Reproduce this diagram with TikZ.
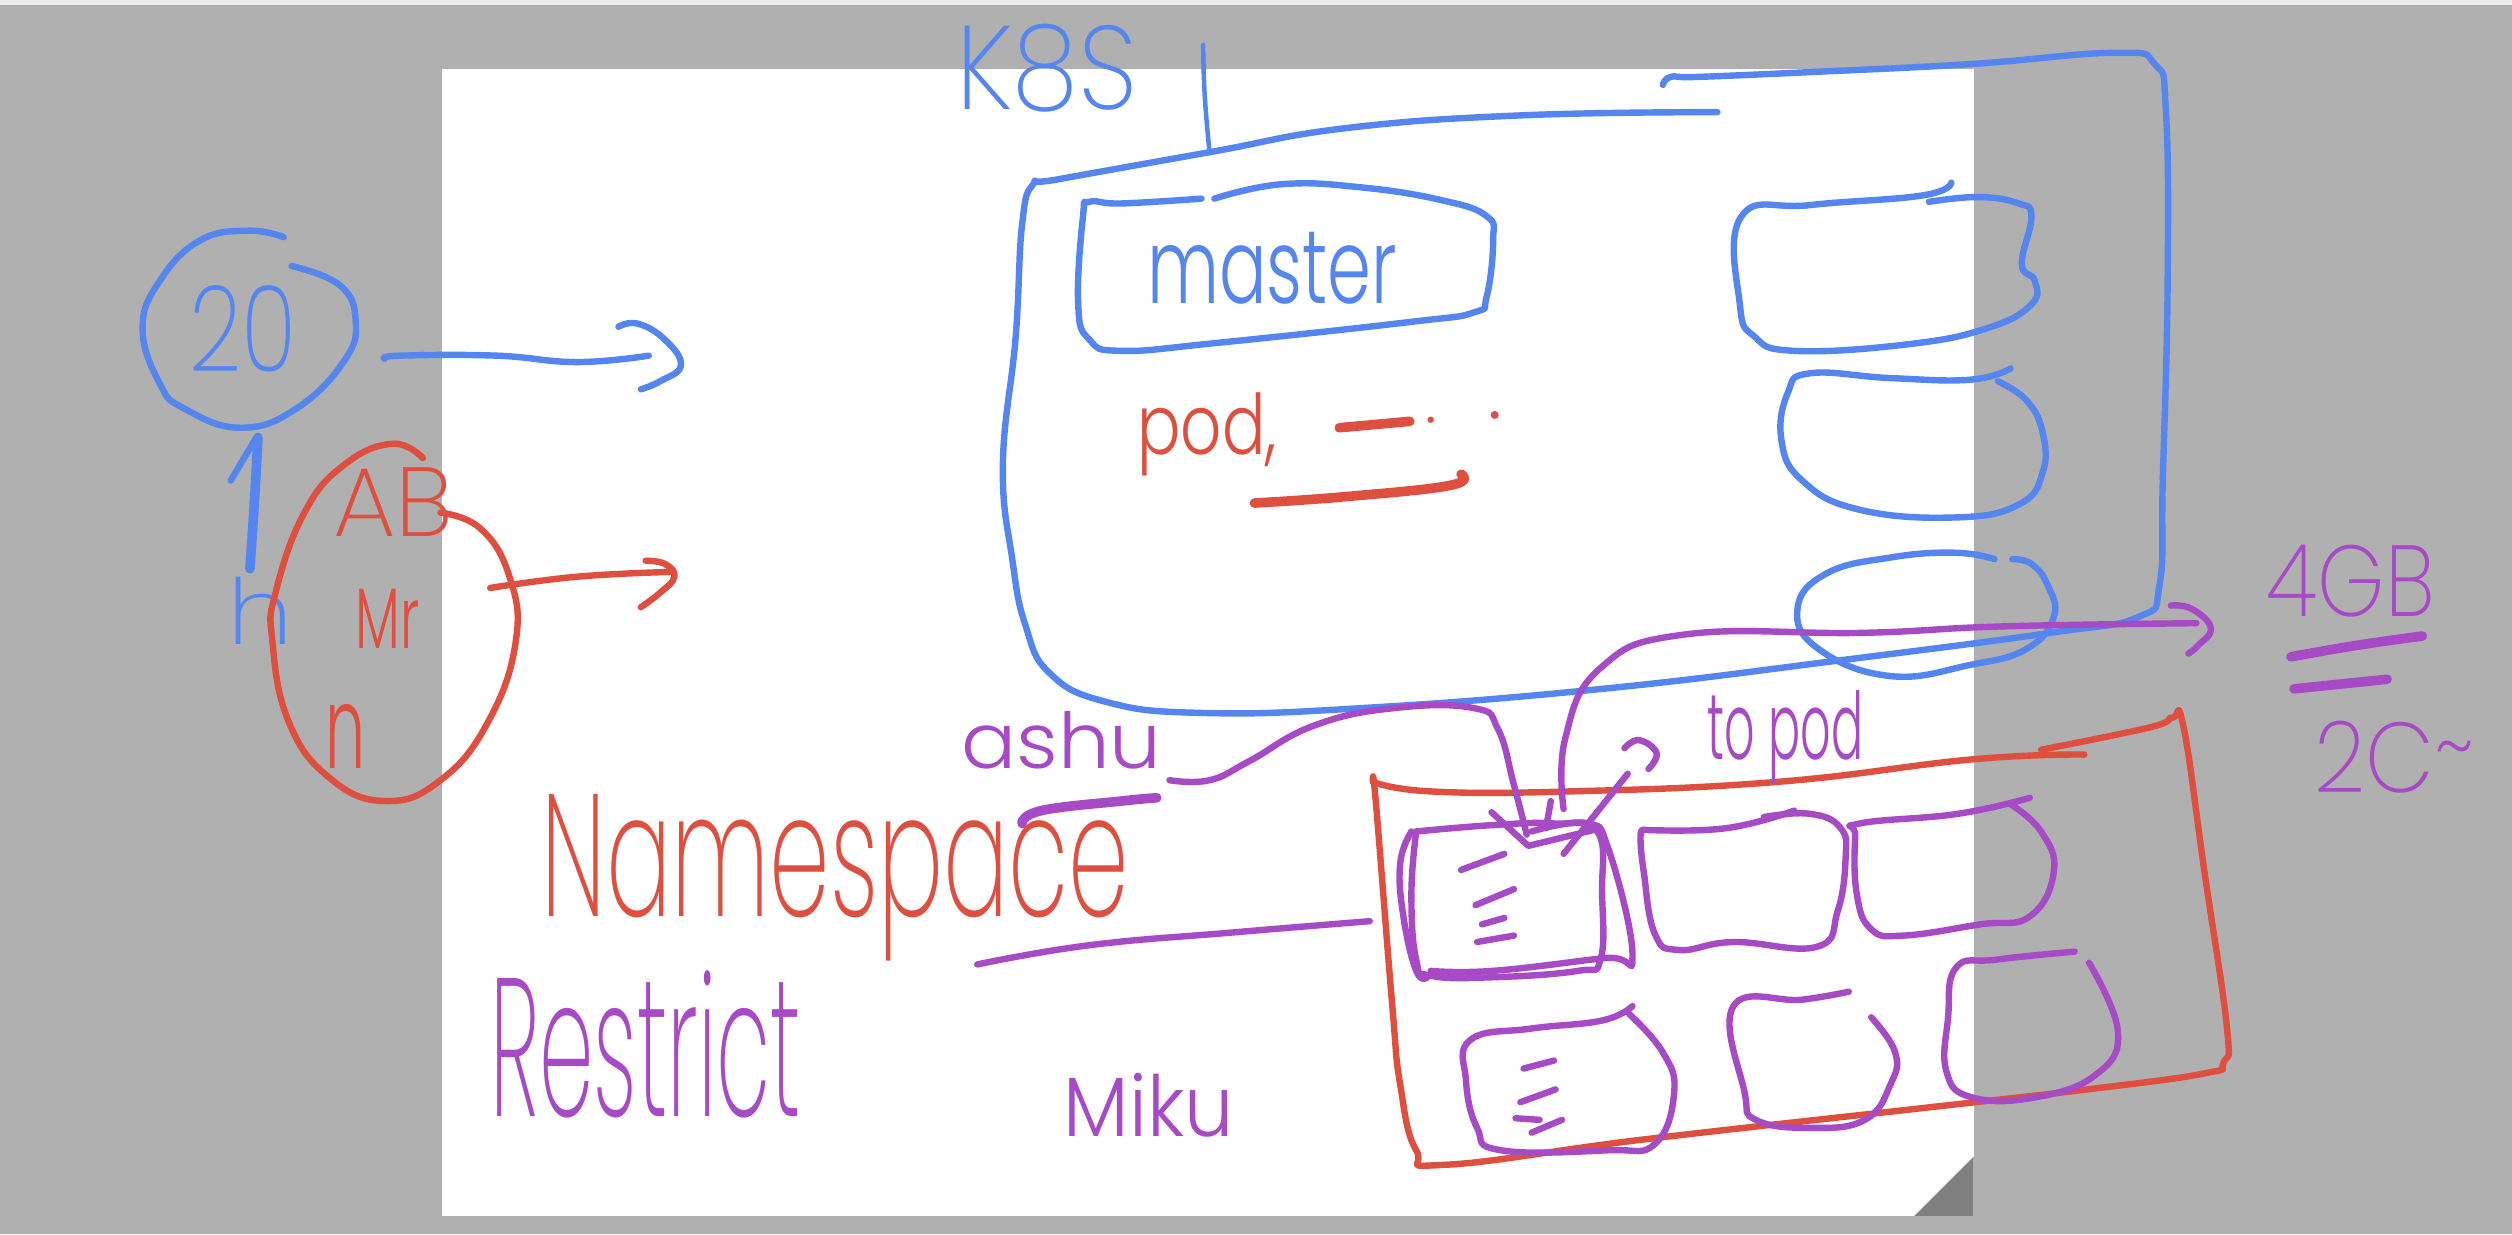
\documentclass[tikz,border=0pt]{standalone}
\usepackage{graphicx}
\usepackage{fontspec}
\setmainfont{Poppins Light}
\newfontfamily\lightink{Poppins ExtraLight}
\definecolor{inkblue}{HTML}{5585EE}
\definecolor{inkred}{HTML}{DE4F40}
\definecolor{inkpurple}{HTML}{A64AC6}
\definecolor{desk}{HTML}{B0B0B0}
\tikzset{
  ink/.style={line width=2pt,line cap=round,line join=round},
  fat/.style={line width=3pt,line cap=round,line join=round},
  hair/.style={line width=1.4pt,line cap=round,line join=round},
}
\newcommand{\hw}[7]{%
  \pgfmathsetlengthmacro{\hwW}{(#4-#2)*0.5pt}%
  \pgfmathsetlengthmacro{\hwH}{(#5-#3)*0.5pt}%
  \node[inner sep=0pt,text=#1] (#6) at ({(#2+#4)/2},{(#3+#5)/2}) {\resizebox*{\hwW}{\hwH}{#7}};}
\newcommand{\sm}[2]{\draw[#1] plot[smooth,tension=.75] coordinates {#2};}
\begin{document}
\begin{tikzpicture}[x=0.5pt,y=-0.5pt]
\useasboundingbox (0,0) rectangle (1568,770.3);
\fill[desk] (0,0) rectangle (1568,770.3);
\fill[black!7] (0,0) rectangle (1568,3);
\fill[white] (276,43) rectangle (1232,759);
\fill[black!50] (1195,759) -- (1232,722) -- (1232,759) -- cycle;
% left blue group
\sm{ink,inkblue}{(177,148)(155,144)(125,150)(100,175)(89,205)(100,240)(115,255)(150,267)(185,255)(215,225)(222,200)(212,178)(182,166)}
\hw{inkblue}{118}{178}{185}{232}{twenty}{\lightink 20}
\sm{ink,inkblue}{(240,224)(250,222)(310,222)(360,226)(405,222)}
\sm{ink,inkblue}{(386,204)(398,202)(415,212)(425,228)(412,238)(400,243)}
\sm{fat,inkblue}{(161,273)(159,310)(156,355)}
\draw[ink,inkblue] (144,300) -- (160,273);
\hw{inkblue}{142}{360}{183}{402}{bluen}{\lightink h}
% left red group
\sm{ink,inkred}{(264,286)(245,277)(215,290)(190,320)(172,370)(170,400)(180,450)(205,485)(240,500)(275,487)(305,450)(322,400)(318,360)(300,330)(275,320)}
\hw{inkred}{208}{292}{283}{335}{ab}{\lightink AB}
\hw{inkred}{222}{368}{262}{405}{mr}{Mr}
\hw{inkred}{203}{440}{228}{480}{redn}{n}
\sm{ink,inkred}{(306,367)(360,360)(418,357)}
\sm{ink,inkred}{(403,350)(415,352)(421,360)(412,370)(400,379)}
% K8S
\hw{inkblue}{597}{15}{710}{70}{ks}{\lightink K8S}
\sm{hair,inkblue}{(751,28)(752,60)(755,95)}
% big blue box
\sm{ink,inkblue}{(1072,70)(950,72)(840,80)(755,95)(660,112)(645,115)(638,140)(634,210)(626,290)(632,350)(640,390)(655,420)(690,438)(750,445)(850,442)(1000,430)(1150,412)(1280,395)(1335,385)(1348,365)(1350,300)(1353,180)(1352,70)(1345,40)(1320,33)(1230,40)(1130,45)(1060,48)(1043,48)(1038,53)}
% master
\sm{ink,inkblue}{(750,124)(700,127)(680,126)(676,135)(673,190)(680,212)(700,219)(760,214)(880,201)(920,195)(928,185)(932,150)(928,135)(900,125)(850,117)(800,115)(758,124)}
\hw{inkblue}{716}{145}{872}{190}{master}{master}
% pod
\hw{inkred}{710}{245}{797}{297}{pod}{pod,}
\draw[fat,inkred] (836,267) -- (880,263);
\fill[inkred] (893,262) circle (2) (933,259) circle (2.5);
\sm{fat,inkred}{(783,314)(840,310)(905,303)(912,296)}
% right blue shapes
\sm{ink,inkblue}{(1218,114)(1200,122)(1130,128)(1087,135)(1086,190)(1095,210)(1120,219)(1190,215)(1240,205)(1268,190)(1270,175)(1262,165)(1268,135)(1260,127)(1235,123)(1204,126)}
\sm{ink,inkblue}{(1255,230)(1230,237)(1180,236)(1130,233)(1116,245)(1112,275)(1125,300)(1160,318)(1220,323)(1260,315)(1275,295)(1275,270)(1265,250)(1247,238)}
\sm{ink,inkblue}{(1245,349)(1220,345)(1180,348)(1140,358)(1122,380)(1135,405)(1180,422)(1230,415)(1265,405)(1282,385)(1278,365)(1268,352)(1256,349)}
% red namespace box
\sm{ink,inkred}{(857,488)(893,494)(980,494)(1110,488)(1231,474)(1301,471)}
\sm{ink,inkred}{(1274,468)(1342,454)(1356,448)(1363,454)(1376,544)(1390,641)(1388,663)(1376,670)(1303,680)(1197,692)(1028,711)(903,727)(884,718)(874,677)(869,627)(859,503)(857,488)}
% purple flows
\sm{ink,inkpurple}{(730,487)(755,487)(780,475)(820,453)(870,442)(920,442)(935,455)(945,490)(953,521)}
\sm{ink,inkpurple}{(976,505)(977,461)(999,417)(1052,396)(1164,395)(1250,391)(1371,389)}
\sm{ink,inkpurple}{(1355,378)(1368,380)(1380,392)(1372,403)(1366,408)}
\draw[ink,inkpurple] (931,507) -- (954,528) -- (995,518);
\draw[ink,inkpurple] (968,500) -- (965,517);
\draw[ink,inkpurple] (1016,483) -- (976,533);
\sm{ink,inkpurple}{(1014,467)(1023,462)(1034,470)(1029,480)}
\hw{inkpurple}{1066}{431}{1163}{489}{toprod}{to pod}
% pod stack
\sm{ink,inkpurple}{(884,519)(932,515)(970,514)(997,519)(1000,558)(999,599)(985,606)(932,610)(893,609)(884,599)(881,558)(884,519)}
\sm{ink,inkpurple}{(956,519)(990,514)(1004,530)(1019,597)(1002,598)(932,606)(893,606)}
\sm{ink,inkpurple}{(881,519)(874,539)(876,572)(884,606)(891,610)}
\draw[ink,inkpurple] (912,543) -- (939,533) (921,565) -- (945,555) (925,577) -- (939,573) (922,588) -- (945,584);
% other pods
\sm{ink,inkpurple}{(1026,518)(1077,517)(1120,506)}
\sm{ink,inkpurple}{(1101,510)(1130,508)(1149,517)(1152,536)(1147,569)(1134,591)(1082,588)(1048,593)(1033,583)(1026,544)(1024,522)(1026,518)}
\sm{ink,inkpurple}{(1267,498)(1222,508)(1161,514)(1158,522)(1159,558)(1168,580)(1188,584)(1236,577)(1267,572)(1282,544)(1274,519)(1255,502)}
\sm{ink,inkpurple}{(1019,628)(1000,637)(956,642)(918,649)(915,674)(922,704)(937,718)(1004,718)(1033,714)(1045,682)(1038,657)(1017,633)}
\draw[ink,inkpurple] (951,667) -- (970,662) (949,688) -- (971,680) (946,698) -- (961,699) (956,707) -- (975,699);
\sm{ink,inkpurple}{(1154,619)(1125,624)(1082,628)(1089,682)(1096,699)(1130,704)(1164,699)(1180,677)(1183,657)(1168,635)}
\sm{ink,inkpurple}{(1295,594)(1246,599)(1221,604)(1216,635)(1215,669)(1231,685)(1270,685)(1308,671)(1322,644)(1304,601)}
\sm{ink,inkpurple}{(610,602)(680,590)(770,582)(855,575)}
% words
\hw{inkred}{338}{496}{705}{600}{ns}{\lightink Namespace}
\hw{inkpurple}{306}{606}{500}{698}{restrict}{\lightink Restrict}
\hw{inkpurple}{664}{670}{770}{710}{miku}{Miku}
\hw{inkpurple}{600}{444}{725}{480}{ashu}{ashu}
\sm{fat,inkpurple}{(638,514)(650,506)(700,500)(722,498)}
\hw{inkpurple}{1415}{340}{1520}{385}{mem}{\lightink 4GB}
\sm{fat,inkpurple}{(1430,410)(1470,403)(1512,397)}
\sm{fat,inkpurple}{(1432,430)(1490,424)}
\hw{inkpurple}{1445}{450}{1545}{495}{cpu}{\lightink 2C\raisebox{.25ex}{\textasciitilde}}
\end{tikzpicture}
\end{document}
